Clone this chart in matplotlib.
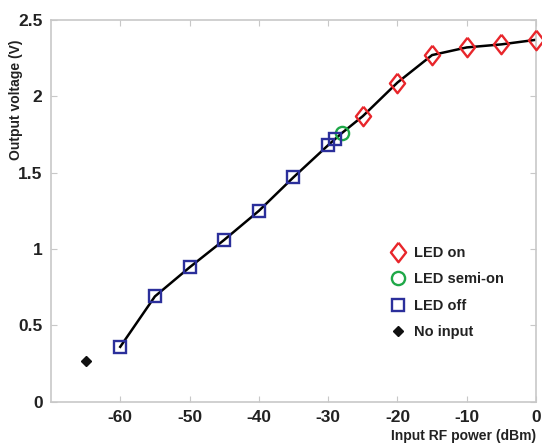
import matplotlib
matplotlib.use("Agg")
import matplotlib.pyplot as plt
from matplotlib.ticker import FormatStrFormatter

plt.rcParams['font.family'] = ['Liberation Sans', 'DejaVu Sans']
plt.rcParams['font.weight'] = 'bold'
plt.rcParams['axes.unicode_minus'] = False

# data
curve_x = [-60, -55, -50, -45, -40, -35, -30, -29, -28, -25, -20, -15, -10, -5, 0]
curve_y = [0.36, 0.69, 0.88, 1.06, 1.25, 1.47, 1.68, 1.72, 1.76, 1.87, 2.09, 2.27, 2.32, 2.34, 2.37]

on_x = [-25, -20, -15, -10, -5, 0]
on_y = [1.87, 2.09, 2.27, 2.32, 2.34, 2.37]

semi_x = [-28]
semi_y = [1.76]

off_x = [-60, -55, -50, -45, -40, -35, -30, -29]
off_y = [0.36, 0.69, 0.88, 1.06, 1.25, 1.47, 1.68, 1.72]

none_x = [-65]
none_y = [0.27]

# slightly narrow diamond, like the matlab one
diamond = [(0, 1), (0.78, 0), (0, -1), (-0.78, 0), (0, 1)]

fig = plt.figure(figsize=(5.42, 4.43), dpi=100)
ax = fig.add_axes([0.094, 0.093, 0.895, 0.862])

ax.plot(curve_x, curve_y, color='black', lw=1.8, zorder=1)
ax.plot(on_x, on_y, ls='none', marker=diamond, ms=14, mfc='none', mec='#e8262b', mew=1.7,
        label='LED on', zorder=3, clip_on=False)
ax.plot(semi_x, semi_y, ls='none', marker='o', ms=9.5, mfc='none', mec='#1fa848', mew=1.7,
        label='LED semi-on', zorder=3)
ax.plot(off_x, off_y, ls='none', marker='s', ms=8, mfc='none', mec='#2b2f9b', mew=1.7,
        label='LED off', zorder=3)
ax.plot(none_x, none_y, ls='none', marker='D', ms=5, color='#111111', label='No input', zorder=3)

ax.set_xlim(-70, 0)
ax.set_ylim(0, 2.5)
ax.set_xticks([-60, -50, -40, -30, -20, -10, 0])
ax.set_yticks([0, 0.5, 1, 1.5, 2, 2.5])
ax.yaxis.set_major_formatter(FormatStrFormatter('%g'))

for s in ax.spines.values():
    s.set_color('#c8c8c8')
    s.set_linewidth(1.2)
ax.tick_params(direction='in', top=True, right=True, color='#c8c8c8', length=4,
               labelsize=12.5, pad=6)
for lab in ax.get_xticklabels() + ax.get_yticklabels():
    lab.set_fontweight('bold')
    lab.set_color('#222222')

ax.set_xlabel('Input RF power (dBm)', fontsize=10, fontweight='bold', color='#222222')
ax.xaxis.set_label_coords(1.0, -0.07)
ax.xaxis.label.set_ha('right')
ax.set_ylabel('Output voltage (V)', fontsize=10, fontweight='bold', color='#222222')
ax.yaxis.set_label_coords(-0.057, 0.79)

leg = ax.legend(loc='lower right', bbox_to_anchor=(0.96, 0.13), frameon=False,
                fontsize=10.5, handletextpad=0.6, labelspacing=0.85, handlelength=1.0)
for t in leg.get_texts():
    t.set_fontweight('bold')
    t.set_color('#222222')

fig.savefig('out.png', dpi=100)
